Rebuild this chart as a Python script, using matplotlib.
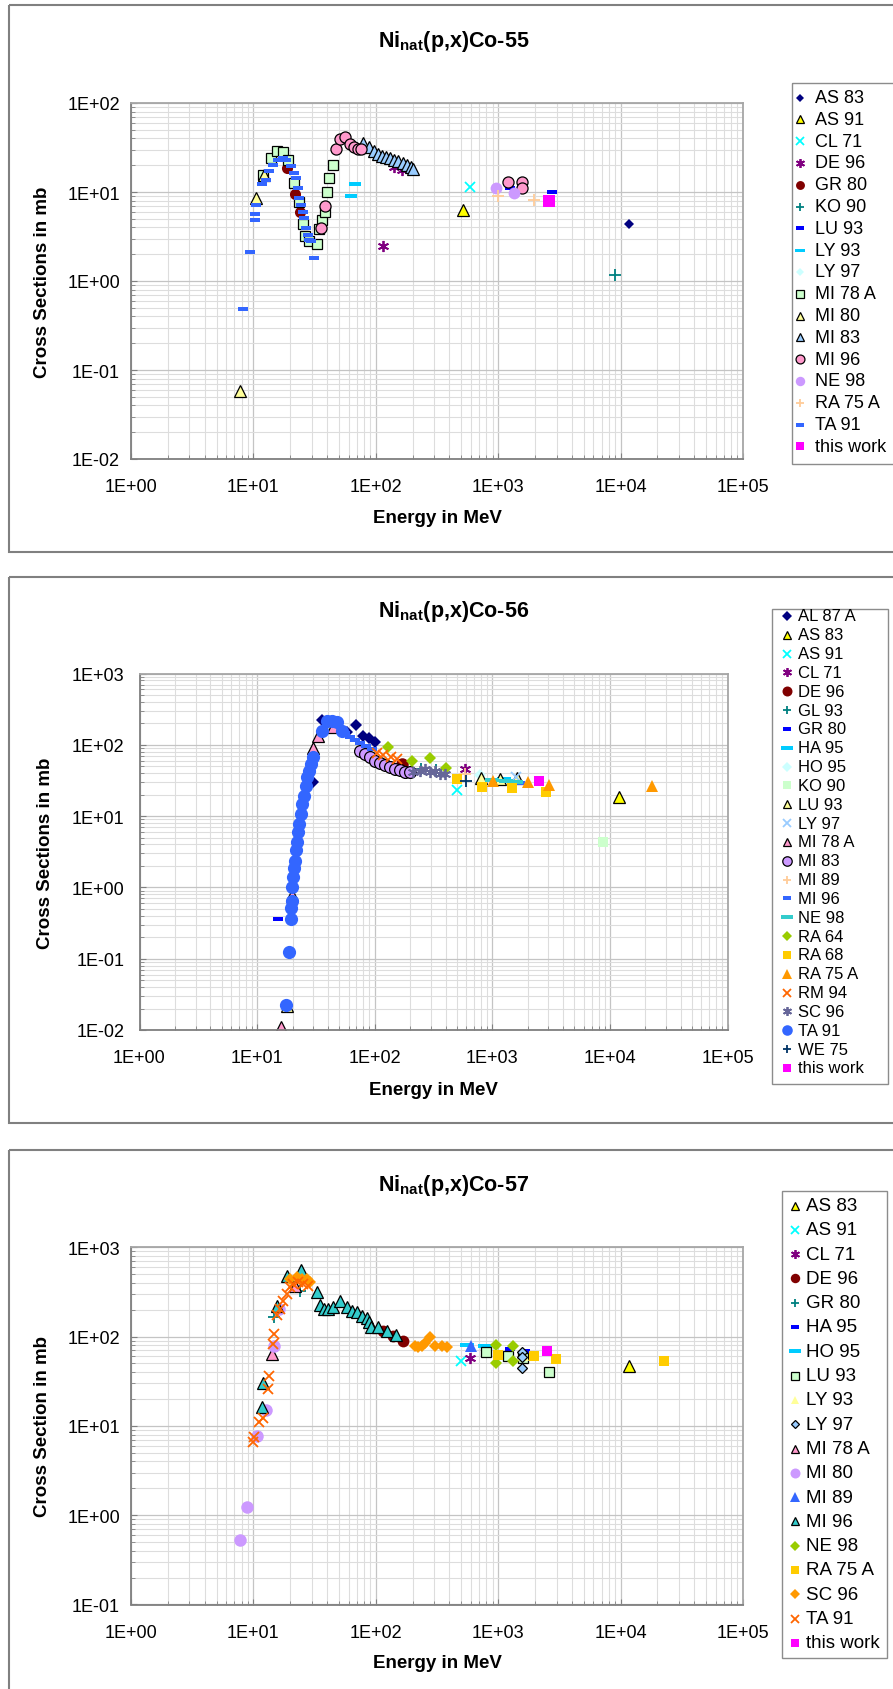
import numpy as np
import matplotlib
matplotlib.use("Agg")
import matplotlib.pyplot as plt
import matplotlib.transforms as mtransforms
from matplotlib.lines import Line2D
from matplotlib.patches import Rectangle
from matplotlib.ticker import LogLocator, FuncFormatter, NullFormatter

# ---------------- Ni(p,x)Co-55 ----------------
co55_labels = ["AS 83", "AS 91", "CL 71", "DE 96", "GR 80", "KO 90", "LU 93", "LY 93",
               "LY 97", "MI 78 A", "MI 80", "MI 83", "MI 96", "NE 98", "RA 75 A",
               "TA 91", "this work"]
co55_energy = [
    [11800],
    [520],
    [590],
    [114, 140, 165],
    [18.8, 22.0, 24.0],
    [9000],
    [1240, 2750],
    [63, 68],
    [],
    [11.9, 13.9, 15.6, 17.4, 19.1, 21.6, 23.7, 25.6, 26.6, 28.6, 33.0, 34.6, 36.4,
     38.7, 40.0, 41.7, 44.5],
    [7.7, 10.6, 12.2],
    [78, 88, 96, 104, 113, 121, 131, 142, 153, 166, 179, 194, 203],
    [35.7, 38.7, 47.4, 51.1, 56.1, 61.6, 66.1, 71.3, 75.9, 1200, 1560, 1560],
    [960, 1340],
    [990, 1960],
    [8.3, 9.3, 10.4, 10.4, 10.6, 11.8, 12.7, 13.5, 14.4, 15.8, 17.4, 18.5, 20.3, 21.6,
     22.3, 23.0, 23.7, 24.5, 25.2, 26.0, 26.8, 27.7, 28.6, 29.5, 31.1],
    [2600],
]
co55_sigma = [
    [4.4],
    [6.3],
    [11.5],
    [2.5, 19.0, 17.5],
    [18.5, 9.5, 6.0],
    [1.17],
    [11.0, 10.0],
    [9.0, 12.3],
    [],
    [15.6, 24, 29, 28, 23, 12.6, 7.8, 4.4, 3.2, 2.8, 2.6, 3.8, 4.9, 6.0, 9.9, 14.3, 20.3],
    [0.058, 8.6, 15.5],
    [35.5, 31.7, 28.6, 26.7, 25.6, 24.7, 24.0, 23.0, 22.1, 21.1, 19.9, 18.9, 18.2],
    [3.9, 6.9, 30.6, 39.4, 41.1, 34.6, 32, 30.6, 30.6, 12.9, 12.9, 11.2],
    [11.2, 9.7],
    [9.0, 8.2],
    [0.49, 2.1, 5.6, 4.9, 7.2, 12.3, 13.7, 17, 20.3, 23, 24, 23, 19.4, 16.3, 14.3, 11,
     8.5, 7.2, 6.0, 5.1, 3.9, 3.3, 2.9, 2.8, 1.8],
    [8.0],
]

# ---------------- Ni(p,x)Co-56 ----------------
co56_labels = ["AL 87 A", "AS 83", "AS 91", "CL 71", "DE 96", "GL 93", "GR 80", "HA 95",
               "HO 95", "KO 90", "LU 93", "LY 97", "MI 78 A", "MI 83", "MI 89", "MI 96",
               "NE 98", "RA 64", "RA 68", "RA 75 A", "RM 94", "SC 96", "TA 91", "WE 75",
               "this work"]
co56_energy = [
    [30, 35.4, 57.8, 69.3, 80, 90, 100],
    [12000],
    [505],
    [590],
    [172],
    [250, 330],
    [15.1],
    [1250],
    [790],
    [8800],
    [17.8, 800, 1160, 1610],
    [1600],
    [16, 19.7, 30.1, 32.7, 44.5],
    [75, 82.6, 91, 100, 111, 122, 135, 149, 164, 181, 200],
    [590],
    [56, 62, 68, 75, 85, 95, 1720],
    [1000, 1300, 1600],
    [131, 209, 295, 401],
    [504, 813, 1479, 2864],
    [1007, 2025, 3035, 22650],
    [105, 117, 137, 154],
    [213, 243, 268, 295, 326, 359, 396],
    [17.6, 18.7, 19.3, 19.5, 19.8, 19.9, 20.3, 20.7, 21.0, 21.4, 21.7, 22.3, 22.9, 23.5,
     24.3, 25.1, 26.1, 26.8, 27.6, 28.6, 29.7, 35.4, 39.1, 43.1, 47.5, 52.4],
    [597],
    [2500],
]
co56_sigma = [
    [29.7, 225, 153, 190, 134, 123, 108],
    [18.3],
    [23.4],
    [46],
    [54],
    [46, 44],
    [0.36],
    [33],
    [38],
    [4.3],
    [0.022, 34, 33, 34],
    [35],
    [0.011, 0.77, 89, 134, 176],
    [82.6, 74, 66.7, 60, 55.6, 52, 48.2, 45.7, 44.3, 42, 41.1],
    [39],
    [145, 128, 115, 105, 95, 88, 29],
    [32, 31, 30],
    [92, 60, 64.6, 46.8],
    [33, 25.3, 24.8, 21.6],
    [31.4, 29.8, 27.3, 26.7],
    [76, 71, 67, 63],
    [41, 43.4, 45.7, 41, 43.4, 39, 39],
    [0.0224, 0.123, 0.36, 0.52, 0.65, 1.0, 1.38, 1.85, 2.37, 3.3, 4.3, 5.9, 7.7, 10.7,
     14.8, 19.4, 26.7, 35, 43, 53.9, 66.9, 158, 219, 219, 207, 158],
    [31.4],
    [31.4],
]

# ---------------- Ni(p,x)Co-57 ----------------
co57_labels = ["AS 83", "AS 91", "CL 71", "DE 96", "GR 80", "HA 95", "HO 95", "LU 93",
               "LY 93", "LY 97", "MI 78 A", "MI 80", "MI 89", "MI 96", "NE 98", "RA 75 A",
               "SC 96", "TA 91", "this work"]
co57_energy = [
    [11800],
    [494],
    [588],
    [114, 139, 168],
    [14.6, 24],
    [1250, 1660],
    [553, 780],
    [795, 1196, 1585, 2588],
    [1585],
    [1574, 1574, 1574],
    [14.1, 21.9],
    [7.8, 8.9, 10.8, 12.7, 14.6, 16.3],
    [600],
    [11.8, 12.05, 15.5, 18.7, 24.5, 32.9, 35, 37.7, 41, 45, 51, 57.8, 63.5, 69.8, 76.7,
     84.2, 88.5, 90.8, 105, 123, 146],
    [959, 959, 1330, 1330],
    [991, 1961, 2966, 22750],
    [20, 22.6, 24.8, 27.2, 29, 209, 223, 237, 253, 277, 305, 345, 379],
    [9.86, 10.2, 11.2, 11.9, 13.1, 13.5, 14.4, 14.6, 15.5, 16.5, 17.3, 18.7, 19.9, 21.2,
     23.3, 25.6, 28.1],
    [2518],
]
co57_sigma = [
    [47.2],
    [53.7],
    [57],
    [115, 101, 89],
    [164, 327],
    [72.6, 69.5],
    [80.5, 78],
    [66.7, 60.3, 57.2, 40.4],
    [62],
    [67.8, 58.5, 44.6],
    [64, 372],
    [0.53, 1.25, 7.8, 15.1, 79, 204],
    [77.8],
    [16.2, 30.3, 222, 482, 562, 313, 226, 204, 204, 213, 253, 217, 195, 187, 172, 160,
     144, 127, 127, 117, 103],
    [80.5, 50.6, 77.8, 53.7],
    [62.2, 60.3, 56, 53.7],
    [443, 461, 443, 443, 406, 79, 76, 79, 84, 98, 79, 79, 76],
    [6.6, 7.5, 11.2, 12.2, 26, 36.6, 83, 107, 175, 204, 253, 300, 357, 389, 406, 389, 372],
    [69.5],
]

plt.rcParams["font.family"] = ["Liberation Sans", "DejaVu Sans"]
plt.rcParams["mathtext.fontset"] = "custom"
plt.rcParams["mathtext.rm"] = "Liberation Sans"
plt.rcParams["mathtext.bf"] = "Liberation Sans:bold"

W, H = 893, 1690
fig = plt.figure(figsize=(W / 100, H / 100), dpi=100)
# pixel coordinates measured from the top-left corner
px = mtransforms.Affine2D().scale(1.0 / W, -1.0 / H).translate(0, 1) + fig.transFigure

RECT = [(-1, -0.55), (1, -0.55), (1, 0.55), (-1, 0.55)]
DASH = [(-1, -0.3), (1, -0.3), (1, 0.3), (-1, 0.3)]
ASTER = (6, 2, 0)
LINE_MARKERS = ("x", "+", ASTER)


def mk(marker, face, edge=None, size=7.5):
    if marker in LINE_MARKERS:
        return dict(marker=marker, mfc=face, mec=face, ms=size, mew=1.3)
    return dict(marker=marker, mfc=face, mec=edge or face, ms=size,
                mew=0.9 if edge else 0.0)


co55_styles = [
    mk("D", "#000080", size=5.5), mk("^", "#FFFF00", "k", 8), mk("x", "#00FFFF", size=7),
    mk(ASTER, "#800080", size=8), mk("o", "#800000", size=8), mk("+", "#008080", size=8),
    mk(RECT, "#0000FF", size=6.5), mk(DASH, "#00CCFF", size=9), mk("D", "#CCFFFF", size=5.5),
    mk("s", "#CCFFCC", "k", 7.5), mk("^", "#FFFF99", "k", 8), mk("^", "#99CCFF", "k", 8),
    mk("o", "#FF99CC", "k", 8), mk("o", "#CC99FF", size=8.5), mk("+", "#FFCC99", size=8),
    mk(RECT, "#3366FF", size=6.5), mk("s", "#FF00FF", size=8),
]
co56_styles = [
    mk("D", "#000080", size=6), mk("^", "#FFFF00", "k", 8), mk("x", "#00FFFF", size=7),
    mk(ASTER, "#800080", size=8), mk("o", "#800000", size=9), mk("+", "#008080", size=8),
    mk(RECT, "#0000FF", size=6.5), mk(DASH, "#00CCFF", size=10), mk("D", "#CCFFFF", size=6),
    mk("s", "#CCFFCC", size=7.5), mk("^", "#FFFF99", "k", 8), mk("x", "#99CCFF", size=7),
    mk("^", "#FF99CC", "k", 8), mk("o", "#CC99FF", "k", 8.5), mk("+", "#FFCC99", size=8),
    mk(RECT, "#3366FF", size=6.5), mk(DASH, "#33CCCC", size=10), mk("D", "#99CC00", size=6),
    mk("s", "#FFCC00", size=7.5), mk("^", "#FF9900", size=9), mk("x", "#FF6600", size=7),
    mk(ASTER, "#666699", size=8), mk("o", "#3366FF", size=9.5), mk("+", "#003366", size=8),
    mk("s", "#FF00FF", size=7.5),
]
co57_styles = [
    mk("^", "#FFFF00", "k", 8), mk("x", "#00FFFF", size=7), mk(ASTER, "#800080", size=8),
    mk("o", "#800000", size=8.5), mk("+", "#008080", size=8), mk(RECT, "#0000FF", size=6.5),
    mk(DASH, "#00CCFF", size=10), mk("s", "#CCFFCC", "k", 7), mk("^", "#FFFF99", size=8),
    mk("D", "#99CCFF", "k", 5.5), mk("^", "#FF99CC", "k", 8), mk("o", "#CC99FF", size=9),
    mk("^", "#3366FF", size=8.5), mk("^", "#33CCCC", "k", 8), mk("D", "#99CC00", size=6),
    mk("s", "#FFCC00", size=7.5), mk("D", "#FF9900", size=6.5), mk("x", "#FF6600", size=7.5),
    mk("s", "#FF00FF", size=7.5),
]


def sci_label(v, pos):
    return "1E{:+03d}".format(int(round(np.log10(v))))


def draw_panel(frame, title_xy, plot, xlab_xy, ylab_xy, ylabel, title, ylim, ypad,
               labels, energy, sigma, styles, key):
    # chart-area frame
    l, t, r, b = frame
    fig.add_artist(Rectangle((l, t), r - l, b - t, transform=px, fill=False,
                             ec="#808080", lw=1.5, clip_on=False))
    fig.text(*title_xy, title, transform=px, ha="center", va="center",
             fontsize=15.5, fontweight="bold")

    l, t, r, b = plot
    ax = fig.add_axes([l / W, 1 - b / H, (r - l) / W, (b - t) / H])
    ax.set_xscale("log")
    ax.set_yscale("log")
    ax.set_xlim(1, 1e5)
    ax.set_ylim(*ylim)
    for axis in (ax.xaxis, ax.yaxis):
        axis.set_major_locator(LogLocator(base=10, numticks=20))
        axis.set_minor_locator(LogLocator(base=10, subs=np.arange(2, 10), numticks=100))
        axis.set_major_formatter(FuncFormatter(sci_label))
        axis.set_minor_formatter(NullFormatter())
    ax.grid(which="major", color="#c4c4c4", lw=0.9)
    ax.grid(which="minor", color="#dddddd", lw=0.8)
    ax.set_axisbelow(True)
    ax.tick_params(which="both", direction="in", color="#808080", labelsize=13)
    ax.tick_params(which="major", length=4)
    ax.tick_params(which="minor", length=3)
    ax.tick_params(axis="x", pad=14)
    ax.tick_params(axis="y", pad=ypad)
    for side in ("left", "bottom"):
        ax.spines[side].set_color("#7f7f7f")
        ax.spines[side].set_linewidth(1.3)
    for side in ("top", "right"):
        ax.spines[side].set_color("#a6a6a6")
        ax.spines[side].set_linewidth(1.3)

    for lab, e, s, st in zip(labels, energy, sigma, styles):
        ax.plot(e, s, ls="none", label=lab, **st)

    fig.text(*xlab_xy, "Energy in MeV", transform=px, ha="center", va="center",
             fontsize=13.5, fontweight="bold")
    fig.text(*ylab_xy, ylabel, transform=px, ha="center", va="center",
             rotation=90, fontsize=13.5, fontweight="bold")

    # series key
    (kl, kt, kr, kb), x_mark, x_text, y0, dy, fs = key
    fig.add_artist(Rectangle((kl, kt), kr - kl, kb - kt, transform=px, fill=False,
                             ec="#8c8c8c", lw=1.0, clip_on=False))
    for i, (lab, st) in enumerate(zip(labels, styles)):
        y = y0 + i * dy
        kw = dict(st)
        kw["ms"] = st["ms"] * 0.8
        fig.add_artist(Line2D([x_mark], [y], transform=px, ls="none", **kw))
        fig.text(x_text, y, lab, transform=px, ha="left", va="center", fontsize=fs)
    return ax


draw_panel((8.5, 6, 905, 553), (454, 42), (131, 104, 743, 460), (437, 519), (43, 282),
           "Cross Sections in mb", r"Ni$_{\mathbf{nat}}$(p,x)Co-55", (1e-2, 1e2), 8,
           co55_labels, co55_energy, co55_sigma, co55_styles,
           ((791.6, 84, 905, 465), 800, 815, 98.5, 21.8, 13))

draw_panel((8.5, 577.6, 905, 1124), (454, 611.5), (139.5, 674.5, 727.5, 1031),
           (433.5, 1091), (45.6, 853), "Cross Sections in mb",
           r"Ni$_{\mathbf{nat}}$(p,x)Co-56", (1e-2, 1e3), 11,
           co56_labels, co56_energy, co56_sigma, co56_styles,
           ((772, 610, 888, 1085), 786.7, 798.5, 617, 18.83, 12))

draw_panel((8.5, 1150.5, 905, 1700), (454, 1185.6), (131, 1248.3, 743, 1605.5),
           (437, 1664), (42.7, 1427), "Cross Section in mb",
           r"Ni$_{\mathbf{nat}}$(p,x)Co-57", (1e-1, 1e3), 8,
           co57_labels, co57_energy, co57_sigma, co57_styles,
           ((781.7, 1191.7, 887, 1659), 795, 806, 1206.5, 24.3, 13.5))

fig.savefig("out.png", dpi=100, facecolor="white")
